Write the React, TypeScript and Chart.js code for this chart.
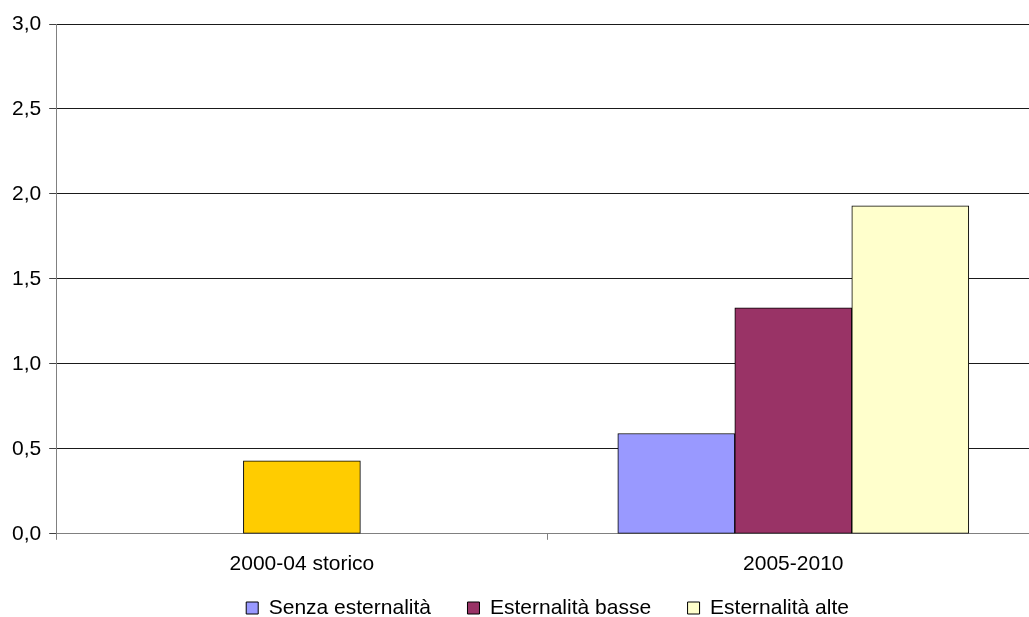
import React, { useEffect, useRef } from "react";
import { Chart, registerables } from "chart.js";

Chart.register(...registerables);

// Categories on the x axis
const categories = ["2000-04 storico", "2005-2010"];

// Series values (null where a series has no bar in that category)
const storico = [0.43, null];
const senzaEsternalita = [null, 0.59];
const esternalitaBasse = [null, 1.33];
const esternalitaAlte = [null, 1.93];

// Value axis range and tick step
const yMin = 0;
const yMax = 3;
const yStep = 0.5;

const FONT = "'Liberation Sans', Arial, Helvetica, sans-serif";
const CANVAS_W = 1040;
const CANVAS_H = 617;
const LEGEND_PADDING = 36.5;
const LEGEND_ROW_TOP = 597.5;

// Moves the legend row closer to the axis labels than the default stacking allows
const legendPlacement = {
  id: "legendPlacement",
  afterLayout(chart: any) {
    const lg = chart.legend;
    if (!lg) return;
    lg.top = LEGEND_ROW_TOP - LEGEND_PADDING;
    lg.bottom = CANVAS_H;
    lg.height = lg.bottom - lg.top;
  },
};

export default function App() {
  const canvasRef = useRef<HTMLCanvasElement | null>(null);

  useEffect(() => {
    const canvas = canvasRef.current;
    if (!canvas) return;

    const common = {
      borderColor: "#000000",
      borderWidth: 1,
      borderSkipped: false,
      barThickness: 117,
      skipNull: true,
    };

    const chart = new Chart(canvas, {
      type: "bar",
      data: {
        labels: categories,
        datasets: [
          { label: "Storico", data: storico, backgroundColor: "#FFCC00", ...common },
          { label: "Senza esternalità", data: senzaEsternalita, backgroundColor: "#9999FF", ...common },
          { label: "Esternalità basse", data: esternalitaBasse, backgroundColor: "#993366", ...common },
          { label: "Esternalità alte", data: esternalitaAlte, backgroundColor: "#FFFFCC", ...common },
        ],
      },
      options: {
        responsive: false,
        animation: false,
        devicePixelRatio: 1,
        layout: { padding: { left: 4, right: 1, top: 24, bottom: 0 } },
        plugins: {
          tooltip: { enabled: false },
          title: { display: false },
          legend: {
            position: "bottom",
            fullSize: false,
            maxHeight: 28,
            labels: {
              boxWidth: 12,
              boxHeight: 12,
              padding: LEGEND_PADDING,
              color: "#000000",
              font: { family: FONT, size: 21 },
              filter: (item: any) => item.datasetIndex !== 0,
            },
          },
        },
        scales: {
          x: {
            offset: true,
            grid: {
              offset: true,
              drawOnChartArea: false,
              drawTicks: true,
              tickLength: 6,
              color: "#808080",
            },
            border: { color: "#808080", width: 1 },
            ticks: {
              color: "#000000",
              padding: 12,
              maxRotation: 0,
              font: { family: FONT, size: 21 },
            },
          },
          y: {
            min: yMin,
            max: yMax,
            ticks: {
              stepSize: yStep,
              color: "#000000",
              padding: 8,
              font: { family: FONT, size: 21 },
              callback: (v: any) => Number(v).toFixed(1).replace(".", ","),
            },
            grid: {
              color: (ctx: any) => (ctx.tick && ctx.tick.value === 0 ? "#808080" : "#1a1a1a"),
              tickColor: "#404040",
              tickLength: 7,
              lineWidth: 1,
            },
            border: { color: "#808080", width: 1 },
          },
        },
      },
      plugins: [legendPlacement],
    });

    return () => chart.destroy();
  }, []);

  return (
    <div
      style={{
        position: "fixed",
        left: 0,
        top: 0,
        width: 1029,
        height: 617,
        overflow: "hidden",
        background: "#ffffff",
      }}
    >
      <canvas ref={canvasRef} width={CANVAS_W} height={CANVAS_H} style={{ display: "block" }} />
    </div>
  );
}
